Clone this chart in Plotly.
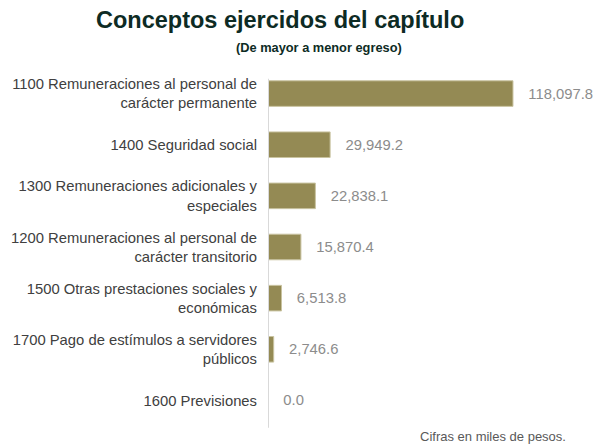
import plotly.graph_objects as go

categories = [
    "1100 Remuneraciones al personal de<br>carácter permanente",
    "1400 Seguridad social",
    "1300 Remuneraciones adicionales y<br>especiales",
    "1200 Remuneraciones al personal de<br>carácter transitorio",
    "1500 Otras prestaciones sociales y<br>económicas",
    "1700 Pago de estímulos a servidores<br>públicos",
    "1600 Previsiones",
]
values = [118097.8, 29949.2, 22838.1, 15870.4, 6513.8, 2746.6, 0.0]
labels = ["   " + f"{v:,.1f}" for v in values]

FONT = "Arial, Liberation Sans, sans-serif"
L, R, T, B = 268, 20, 68, 18
W, H = 595, 444

fig = go.Figure(go.Bar(
    y=categories,
    x=values,
    orientation="h",
    marker=dict(color="#948A54", line=dict(color="#C9C3A0", width=1)),
    text=labels,
    textposition="outside",
    textfont=dict(family=FONT, size=14.8, color="#8C8C8C"),
    cliponaxis=False,
    width=0.5,
))

pw = W - L - R
ph = H - T - B


def px2paper(px, py):
    return (px - L) / pw, (H - B - py) / ph


notes = [
    ("<b>Conceptos ejercidos del capítulo</b>", 280, 20, 23.5, "#0D2B24", "center"),
    ("<b>(De mayor a menor egreso)</b>", 319, 48, 12.8, "#0D2B24", "center"),
    ("Cifras en miles de pesos.", 568, 436, 13, "#595959", "right"),
]
annotations = []
for text, px, py, size, color, anchor in notes:
    x, y = px2paper(px, py)
    annotations.append(dict(text=text, x=x, y=y, xref="paper", yref="paper",
                            xanchor=anchor, yanchor="middle", showarrow=False,
                            font=dict(family=FONT, size=size, color=color)))

fig.update_layout(
    width=W, height=H,
    margin=dict(l=L, r=R, t=T, b=B, autoexpand=False),
    paper_bgcolor="white", plot_bgcolor="white",
    showlegend=False,
    font=dict(family=FONT),
    xaxis=dict(range=[0, 148000], visible=False, fixedrange=True),
    yaxis=dict(autorange="reversed", showgrid=False, zeroline=False, showline=False,
               ticks="", ticklabelstandoff=10, automargin=False,
               tickfont=dict(family=FONT, size=14.8, color="#404040")),
    annotations=annotations,
    shapes=[dict(type="line", xref="x", yref="paper", x0=0, x1=0, y0=-0.005, y1=0.97,
                 line=dict(color="#D9D9D9", width=2))],
)

fig.write_html("out.html", config={"displayModeBar": False},
               post_script="document.body.style.margin='0';document.body.style.overflow='hidden';")
